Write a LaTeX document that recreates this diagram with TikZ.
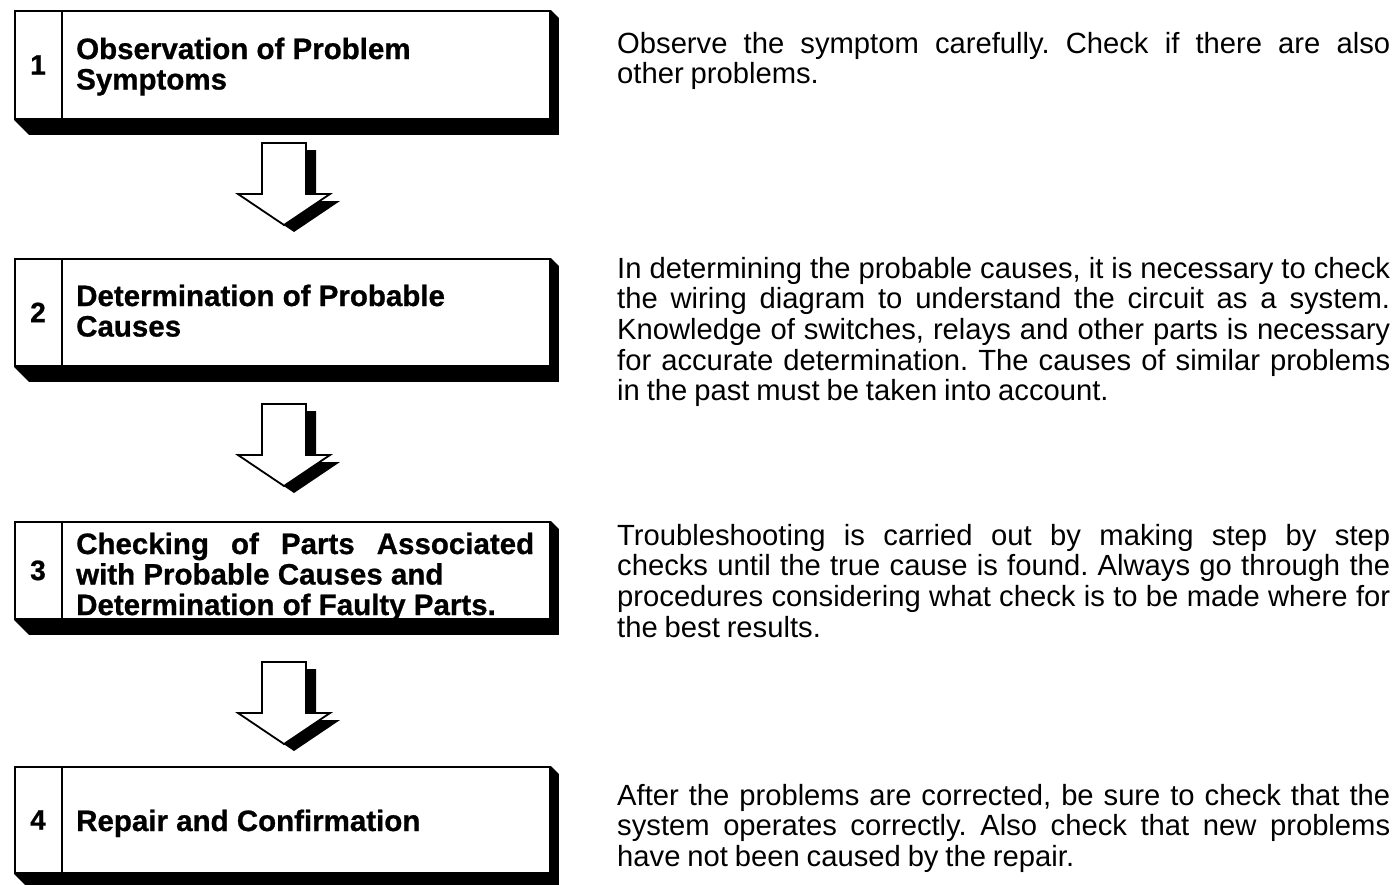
\documentclass[tikz,border=0pt]{standalone}
\usepackage{fontspec}
\setmainfont{Liberation Sans}
\newfontfamily\descfont[WordSpace={0.85,1,1}]{Liberation Sans}
\newfontfamily\titlefont[FakeBold=0.8]{Liberation Sans Bold}
\usetikzlibrary{calc,backgrounds}
\begin{document}
\frenchspacing
\begin{tikzpicture}[x=1pt,y=-1pt,
  box/.style={draw, line width=1.8pt, fill=white, inner sep=0pt, anchor=north west, minimum width=535pt},
  num/.style={font=\titlefont\fontsize{28}{30}\selectfont, inner sep=0pt},
  title/.style={anchor=base west, text width=458pt, align=justify, inner sep=0pt, font=\titlefont\fontsize{29.5}{30.5}\selectfont},
  desc/.style={anchor=base west, text width=773pt, align=justify, inner sep=0pt, font=\descfont\fontsize{29.2}{30.7}\selectfont},
  shadowfill/.style={fill=black},
  blockarr/.pic={
    \fill[black] (-12,7) -- (32,7) -- (32,58) -- (56,58) -- (10,89) -- (-36,58) -- (-12,58) -- cycle;
    \draw[line width=1.8pt, fill=white, line join=miter] (-22,0) -- (22,0) -- (22,51) -- (46,51) -- (0,82) -- (-46,51) -- (-22,51) -- cycle;
  }]
\useasboundingbox (0,0) rectangle (1396,884);

% boxes
\node[box, minimum height=108pt] (b1) at (14,10) {};
\node[box, minimum height=107pt] (b2) at (14,258) {};
\node[box, minimum height=97pt]  (b3) at (14,521) {};
\node[box, minimum height=106pt] (b4) at (14,766) {};

\begin{scope}[on background layer]
\fill[white] (0,0) rectangle (1396,884);
\foreach \b in {b1,b2,b3,b4}{
  \fill[shadowfill] (\b.north east) -- ($(\b.north east)+(8,8)$) -- ($(\b.south east)+(8,15)$) -- ($(\b.south west)+(15,15)$) -- (\b.south west) -- cycle;
}
\end{scope}

\foreach \b in {b1,b2,b3,b4}{
  \draw[line width=1.8pt] ($(\b.north west)+(48,0)$) -- ($(\b.south west)+(48,0)$);
}

% numbers
\node[num] (n1) at ($(b1.west)+(24,0)$) {1};
\node[num] (n2) at ($(b2.west)+(24,0)$) {2};
\node[num] (n3) at ($(b3.west)+(24,0)$) {3};
\node[num] (n4) at ($(b4.west)+(24,0)$) {4};

% titles
\node[title] (t1) at (76,59) {Observation of Problem\\Symptoms};
\node[title] (t2) at (76,306) {Determination of Probable\\Causes};
\node[title] (t3) at (76,554) {Checking of Parts Associated\linebreak with Probable Causes and\\Determination of Faulty Parts.};
\node[title] (t4) at (76,831) {Repair and Confirmation};

% arrows
\pic at (284,143) {blockarr};
\pic at (284,404) {blockarr};
\pic at (284,662) {blockarr};

% descriptions
\node[desc] (d1) at (617,53) {Observe the symptom carefully. Check if there are also\linebreak other problems.};
\node[desc] (d2) at (617,278) {In determining the probable causes, it is necessary to check\linebreak the wiring diagram to understand the circuit as a system.\linebreak Knowledge of switches, relays and other parts is necessary\linebreak for accurate determination. The causes of similar problems\linebreak in the past must be taken into account.};
\node[desc] (d3) at (617,545) {Troubleshooting is carried out by making step by step\linebreak checks until the true cause is found. Always go through the\linebreak procedures considering what check is to be made where for\linebreak the best results.};
\node[desc] (d4) at (617,805) {After the problems are corrected, be sure to check that the\linebreak system operates correctly. Also check that new problems\linebreak have not been caused by the repair.};
\end{tikzpicture}
\end{document}
